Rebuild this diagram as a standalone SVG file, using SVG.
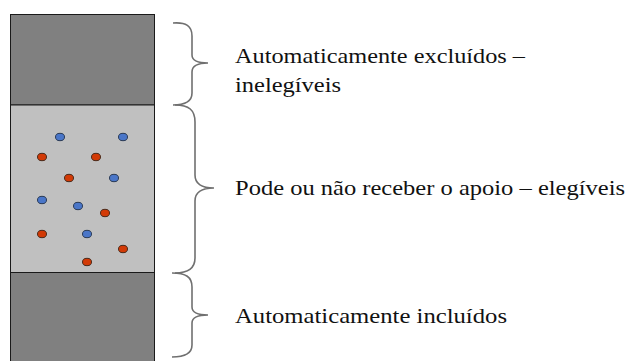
<svg xmlns="http://www.w3.org/2000/svg" width="628" height="361" viewBox="0 0 628 361">
<style>
.band{stroke:#1a1a1a;stroke-width:1}
.dark{fill:#808080}
.light{fill:#c0c0c0}
.b{fill:#4a76c8;stroke:#2a3a55;stroke-width:1}
.r{fill:#d23a06;stroke:#4a2a1a;stroke-width:1}
.brace{fill:none;stroke:#707070;stroke-width:1.6}
.lbl{font-family:"Liberation Serif","DejaVu Serif",serif;font-size:21px;fill:#111}
</style>
<rect width="628" height="361" fill="#fff"/>
<g id="bar">
<rect class="band dark" x="10.5" y="14.5" width="144" height="90.5"/>
<rect class="band light" x="10.5" y="105" width="144" height="167.5"/>
<rect class="band dark" x="10.5" y="272.5" width="144" height="90"/>
</g>
<g id="dots">
<ellipse class="b" cx="60" cy="137" rx="4.5" ry="3.7"/>
<ellipse class="b" cx="123" cy="137" rx="4.5" ry="3.7"/>
<ellipse class="r" cx="42" cy="157" rx="4.5" ry="3.7"/>
<ellipse class="r" cx="96" cy="157" rx="4.5" ry="3.7"/>
<ellipse class="r" cx="69" cy="178" rx="4.5" ry="3.7"/>
<ellipse class="b" cx="114" cy="178" rx="4.5" ry="3.7"/>
<ellipse class="b" cx="42" cy="200" rx="4.5" ry="3.7"/>
<ellipse class="b" cx="78" cy="206" rx="4.5" ry="3.7"/>
<ellipse class="r" cx="105" cy="213" rx="4.5" ry="3.7"/>
<ellipse class="r" cx="42" cy="234" rx="4.5" ry="3.7"/>
<ellipse class="b" cx="87" cy="234" rx="4.5" ry="3.7"/>
<ellipse class="r" cx="123" cy="249" rx="4.5" ry="3.7"/>
<ellipse class="r" cx="87" cy="262" rx="4.5" ry="3.7"/>
</g>
<g id="connectors">
<path id="brace-top" class="brace" d="M173,23 C186,22 192,26 192,36 L192,55 C192,61 198,63 208,63 C198,63 192,66 192,72 L192,93 C192,101 186,105 173,105"/>
<path id="brace-mid" class="brace" d="M175,105 C189,105 195,110 195,122 L195,175 C195,184 202,188 214,188 C202,188 195,192 195,201 L195,258 C195,268 189,273 175,273"/>
<path id="brace-bot" class="brace" d="M172,273 C186,273 192,277 192,287 L192,307 C192,312 198,315 208,315 C198,315 192,318 192,323 L192,345 C192,353 186,357 172,357"/>
</g>
<g id="label-top">
<text class="lbl" x="235" y="63" textLength="290" lengthAdjust="spacingAndGlyphs">Automaticamente excluídos –</text>
<text class="lbl" x="235" y="92" textLength="106" lengthAdjust="spacingAndGlyphs">inelegíveis</text>
</g>
<g id="label-mid">
<text class="lbl" x="235" y="195" textLength="390" lengthAdjust="spacingAndGlyphs">Pode ou não receber o apoio – elegíveis</text>
</g>
<g id="label-bot">
<text class="lbl" x="235" y="323" textLength="272" lengthAdjust="spacingAndGlyphs">Automaticamente incluídos</text>
</g>
</svg>
